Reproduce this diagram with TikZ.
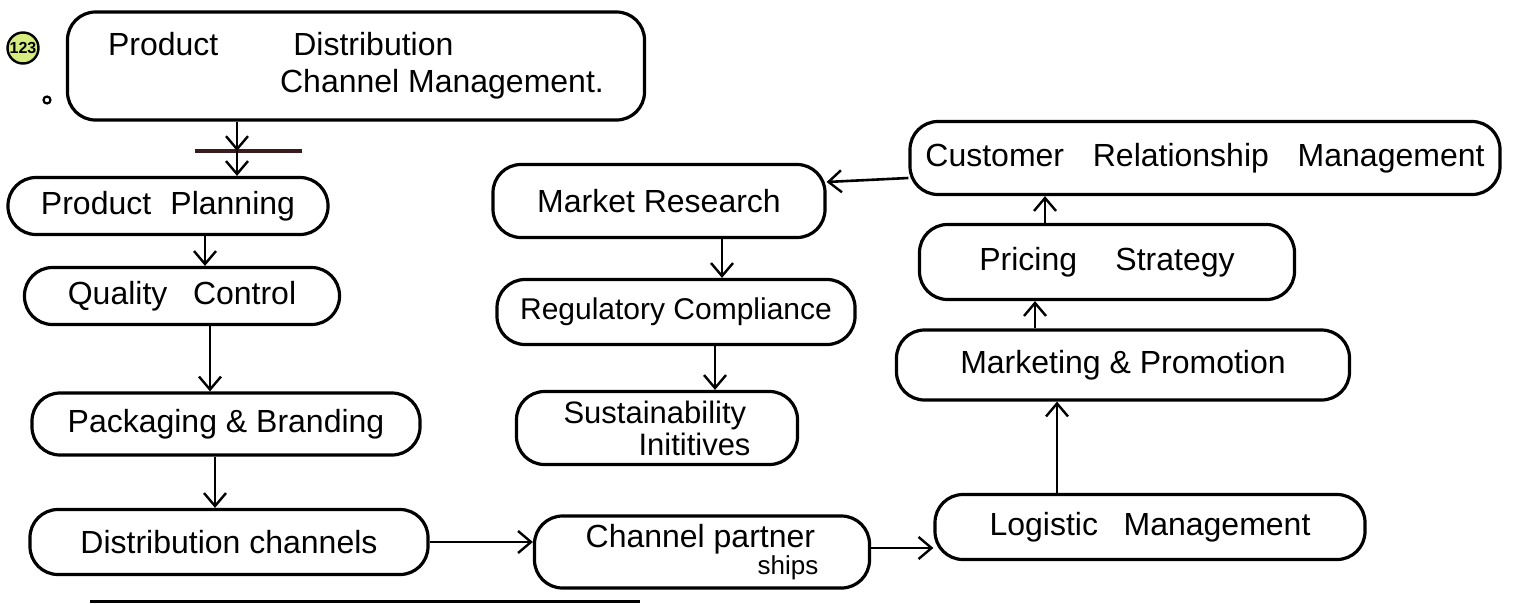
\documentclass[tikz,border=0pt]{standalone}
\usepackage{fontspec}
\setmainfont{Liberation Sans}
\usetikzlibrary{arrows.meta}
\definecolor{badge}{HTML}{D6EC80}
\definecolor{bar}{HTML}{3B1C1E}
\tikzset{
  box/.style={draw=black, line width=3.2pt, rounded corners=28pt, inner sep=2pt,
    font=\fontsize{32}{37}\selectfont, align=center},
  flow/.style={draw=black, line width=2.6pt, -{Straight Barb[length=13pt,width=22pt,line width=2.4pt]}},
  plain/.style={draw=black, line width=3pt}
}
\begin{document}
\begin{tikzpicture}[x=1pt,y=-1pt]
\useasboundingbox (0,0) rectangle (1525,603);
% badge
\node[circle, draw=black, line width=2.4pt, fill=badge, minimum size=31pt, inner sep=0pt,
  font=\fontsize{16}{16}\selectfont\bfseries] (badge) at (23,48) {123};
\node[circle, draw=black, line width=2.2pt, minimum size=7pt, inner sep=0pt] (dot) at (47,100) {};
% boxes
\node[box, minimum width=577pt, minimum height=108pt, align=left] (top) at (356,66)
  {Product\hspace{75pt}Distribution\\\hspace{172pt}Channel Management.};
\node[box, minimum width=320pt, minimum height=57pt] (pp) at (168,206) {Product\hspace{0.6em}Planning};
\node[box, minimum width=315pt, minimum height=57pt] (qc) at (182,296) {Quality\hspace{0.8em}Control};
\node[box, minimum width=388pt, minimum height=62pt] (pb) at (226,424) {Packaging \& Branding};
\node[box, minimum width=398pt, minimum height=65pt] (dc) at (229,542) {Distribution channels};
\node[box, minimum width=335pt, minimum height=72pt, align=left, font=\fontsize{32}{27}\selectfont] (cp) at (702,552)
  {Channel partner\\\hspace{172pt}\fontsize{26}{26}\selectfont ships};
\node[box, minimum width=430pt, minimum height=65pt] (lm) at (1150,527) {Logistic\hspace{0.8em}Management};
\node[box, minimum width=453pt, minimum height=70pt] (mp) at (1123,365) {Marketing \& Promotion};
\node[box, minimum width=375pt, minimum height=75pt] (ps) at (1107,262) {Pricing\hspace{1.2em}Strategy};
\node[box, minimum width=590pt, minimum height=73pt] (crm) at (1205,158) {Customer\hspace{0.9em}Relationship\hspace{0.9em}Management};
\node[box, minimum width=332pt, minimum height=73pt] (mr) at (659,201) {Market Research};
\node[box, minimum width=358pt, minimum height=65pt, font=\fontsize{30}{35}\selectfont] (rc) at (676,312) {Regulatory Compliance};
\node[box, minimum width=281pt, minimum height=73pt, font=\fontsize{31}{32}\selectfont, align=left] (si) at (657,428)
  {Sustainability\\\hspace{75pt}Inititives};
% crossbar under top box
\coordinate (barL) at (195,151);
\coordinate (barR) at (302,151);
\coordinate (barM) at (237,151);
\draw[draw=bar, line width=3.6pt] (barL) -- (barR);
% connectors
\draw[flow] (top.south -| barM) -- (barM);
\draw[flow] (barM) -- (barM |- pp.north);
\draw[flow] ([xshift=37pt]pp.south) -- ([xshift=23pt]qc.north);
\draw[flow] ([xshift=28pt]qc.south) -- ([xshift=-16pt]pb.north);
\draw[flow] ([xshift=-11pt]pb.south) -- ([xshift=-14pt]dc.north);
\draw[flow] (dc.east) -- (cp.west |- dc.east);
\draw[flow] ([yshift=4pt]cp.east) -- ([yshift=-21pt]lm.west);
\draw[flow] ([xshift=-93pt]lm.north) -- ([xshift=-93pt]lm.north |- mp.south);
\draw[flow] ([xshift=-88pt]mp.north) -- ([xshift=-88pt]mp.north |- ps.south);
\draw[flow] ([xshift=-62pt]ps.north) -- ([xshift=-62pt]ps.north |- crm.south);
\draw[flow] ([yshift=-20pt]crm.west) -- ([yshift=19pt]mr.east);
\draw[flow] ([xshift=63pt]mr.south) -- ([xshift=46pt]rc.north);
\draw[flow] ([xshift=39pt]rc.south) -- ([xshift=58pt]si.north);
% page line at bottom
\coordinate (lineL) at (90,601);
\coordinate (lineR) at (640,601);
\draw[plain] (lineL) -- (lineR);
\end{tikzpicture}
\end{document}
